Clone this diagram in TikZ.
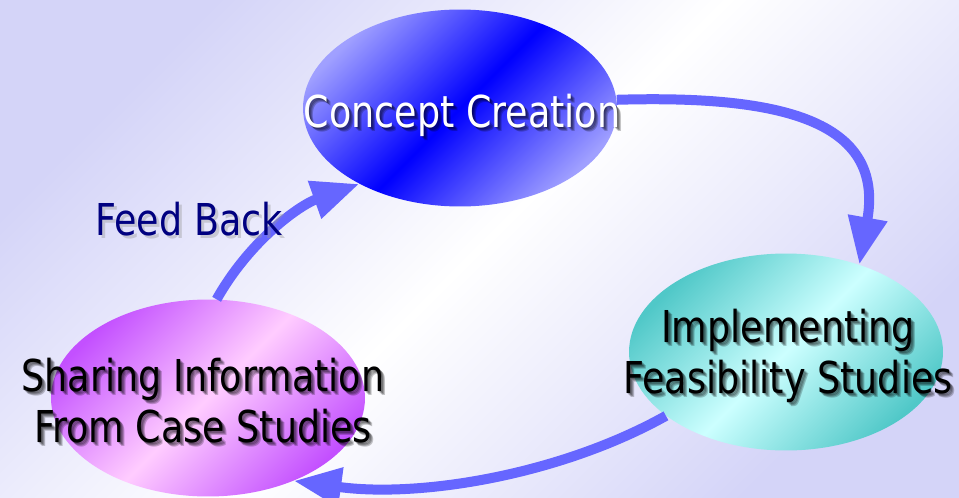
\documentclass[tikz,border=0pt]{standalone}
\usepackage{fontspec}
\setmainfont[FakeStretch=0.83]{DejaVu Sans}
\usetikzlibrary{shapes.geometric,arrows.meta}

\definecolor{bglav}{RGB}{212,212,248}
\definecolor{arrowblue}{RGB}{102,102,255}
\definecolor{conceptlight}{RGB}{160,160,255}
\definecolor{conceptdark}{RGB}{0,0,255}
\definecolor{impldark}{RGB}{80,200,200}
\definecolor{impllight}{RGB}{204,255,255}
\definecolor{sharedark}{RGB}{195,80,255}
\definecolor{sharelight}{RGB}{255,204,255}
\definecolor{feednavy}{RGB}{0,0,128}

\begin{document}
\begin{tikzpicture}[x=0.02cm, y=-0.02cm,
    bubble/.style={ellipse, inner sep=0pt, minimum width=6.28cm, minimum height=3.94cm},
    flow/.style={line width=0.2cm, arrowblue, -{Triangle[length=0.95cm, width=0.75cm]}},
    bubbletext/.style={font=\fontsize{25}{29}\selectfont, align=center, inner sep=0pt, anchor=base},
    shadowtext/.style={bubbletext, text=black, opacity=0.22}]

    % Background
    \useasboundingbox (0,0) rectangle (959,497);
    \shade[top color=bglav, bottom color=bglav, middle color=white, shading angle=45] (0,0) rectangle (959,497);

    % Ellipses
    \node[bubble, top color=conceptlight, bottom color=conceptlight, middle color=conceptdark, shading angle=45] (concept) at (460,108) {};
    \node[bubble, top color=impldark, bottom color=impldark, middle color=impllight, shading angle=45] (impl) at (786,352) {};
    \node[bubble, top color=sharedark, bottom color=sharedark, middle color=sharelight, shading angle=45] (share) at (208,398) {};

    % Arrows
    \draw[flow] (concept.3) .. controls (780,95) and (885,120) .. (impl.50);
    \draw[flow] (impl.208) .. controls (560,475) and (420,498) .. (share.316);
    \draw[flow] (share.85) .. controls (250,240) and (300,205) .. (concept.217);

    % Concept Creation
    \foreach \s in {1,...,4}
        \node[shadowtext] (concept-sh\s) at (462+\s,127+\s) {Concept Creation};
    \node[bubbletext, text=white] (concept-txt) at (462,127) {Concept Creation};

    % Implementing Feasibility Studies
    \foreach \s in {1,...,4}
        \node[shadowtext] (impl-sh\s) at (788+\s,393+\s) {Implementing\\Feasibility Studies};
    \node[bubbletext, text=black] (impl-txt) at (788,393) {Implementing\\Feasibility Studies};

    % Sharing Information From Case Studies
    \foreach \s in {1,...,4}
        \node[shadowtext] (share-sh\s) at (203+\s,442+\s) {Sharing Information\\From Case Studies};
    \node[bubbletext, text=black] (share-txt) at (203,442) {Sharing Information\\From Case Studies};

    % Feed Back
    \node[bubbletext, text=black!40, opacity=0.4] (feed-sh) at (192,238) {Feed Back};
    \node[bubbletext, text=feednavy] (feed-txt) at (189,235) {Feed Back};

\end{tikzpicture}
\end{document}
